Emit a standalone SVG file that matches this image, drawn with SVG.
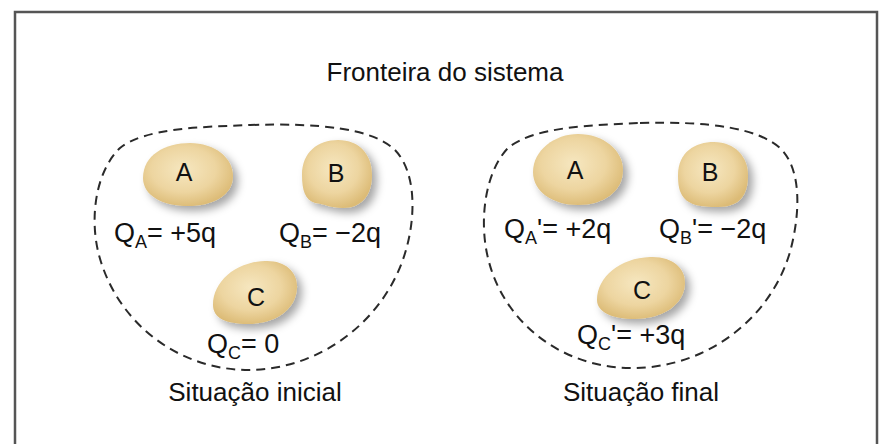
<svg xmlns="http://www.w3.org/2000/svg" width="884" height="444" viewBox="0 0 884 444">
<style>
  text { font-family: "Liberation Sans", Arial, sans-serif; fill: #111; }
  .big { font-size: 26px; }
  .q { font-size: 27px; }
  .lbl { font-size: 25px; text-anchor: middle; }
  .sub { font-size: 18px; }
  .blob { fill: url(#blobGrad); filter: url(#shadow); }
  .bound { fill: none; stroke: #2a2a2a; stroke-width: 2; stroke-dasharray: 9 6; }
  .frame { fill: none; stroke: #555; stroke-width: 2.5; }
</style>
<defs>
  <radialGradient id="blobGrad" cx="45%" cy="42%" r="60%">
    <stop offset="0" stop-color="#f6e7c0"/>
    <stop offset="0.6" stop-color="#edd5a0"/>
    <stop offset="1" stop-color="#dcbb76"/>
  </radialGradient>
  <filter id="shadow" x="-30%" y="-30%" width="170%" height="170%">
    <feDropShadow dx="5" dy="5" stdDeviation="4" flood-color="#000" flood-opacity="0.35"/>
  </filter>
</defs>
<rect width="884" height="444" fill="#fff"/>
<path class="frame" d="M15,446 L15,12 L877,12 L877,446"/>
<text class="big" x="445" y="81" text-anchor="middle">Fronteira do sistema</text>

<g id="connectors"></g>

<g id="boundary-initial">
  <path class="bound" d="M250,125 C320,123 372,128 395,150 C416,172 416,215 406,250 C386,320 320,371 245,370 C175,368 120,322 101,262 C88,222 95,172 120,148 C145,128 200,127 250,125 Z"/>
  <text class="big" x="255" y="401" text-anchor="middle">Situação inicial</text>
</g>
<g id="boundary-final">
  <path class="bound" d="M640,123 C710,121 760,128 782,150 C802,172 800,215 790,252 C770,320 705,369 630,368 C560,367 505,322 489,262 C478,222 485,172 508,148 C533,127 590,125 640,123 Z"/>
  <text class="big" x="641" y="401" text-anchor="middle">Situação final</text>
</g>

<g id="A-initial">
  <path class="blob" d="M143,178 C143,155 165,143 190,143 C215,143 233,158 233,176 C233,196 212,206 188,206 C163,206 143,196 143,178 Z"/>
  <text class="lbl" x="184" y="181">A</text>
  <text class="q" x="114" y="242">Q<tspan class="sub" dy="6">A</tspan><tspan dy="-6">= +5q</tspan></text>
</g>
<g id="B-initial">
  <path class="blob" d="M302,175 C302,152 318,140 338,140 C360,140 372,155 372,175 C372,195 362,208 343,208 C330,208 325,204 315,203 C305,200 302,190 302,175 Z"/>
  <text class="lbl" x="336" y="182">B</text>
  <text class="q" x="279" y="242">Q<tspan class="sub" dy="6">B</tspan><tspan dy="-6">= −2q</tspan></text>
</g>
<g id="C-initial">
  <path class="blob" d="M213,305 C213,282 235,262 265,261 C285,260 298,272 297,288 C296,310 275,324 248,324 C226,324 213,318 213,305 Z"/>
  <text class="lbl" x="256" y="306">C</text>
  <text class="q" x="207" y="353">Q<tspan class="sub" dy="6">C</tspan><tspan dy="-6">= 0</tspan></text>
</g>

<g id="A-final">
  <path class="blob" d="M533,172 C533,150 555,134 578,134 C603,134 623,150 623,170 C623,192 603,205 578,205 C553,205 533,192 533,172 Z"/>
  <text class="lbl" x="575" y="179">A</text>
  <text class="q" x="504" y="238">Q<tspan class="sub" dy="6">A</tspan><tspan dy="-6">'= +2q</tspan></text>
</g>
<g id="B-final">
  <path class="blob" d="M678,175 C678,152 695,142 714,142 C735,142 748,157 748,175 C748,195 740,207 718,207 C700,207 690,205 684,198 C679,192 678,185 678,175 Z"/>
  <text class="lbl" x="710" y="181">B</text>
  <text class="q" x="659" y="238">Q<tspan class="sub" dy="6">B</tspan><tspan dy="-6">'= −2q</tspan></text>
</g>
<g id="C-final">
  <path class="blob" d="M597,300 C597,277 620,258 650,257 C672,256 686,268 685,284 C684,305 662,319 635,319 C612,319 597,312 597,300 Z"/>
  <text class="lbl" x="642" y="299">C</text>
  <text class="q" x="577" y="344">Q<tspan class="sub" dy="6">C</tspan><tspan dy="-6">'= +3q</tspan></text>
</g>
</svg>
